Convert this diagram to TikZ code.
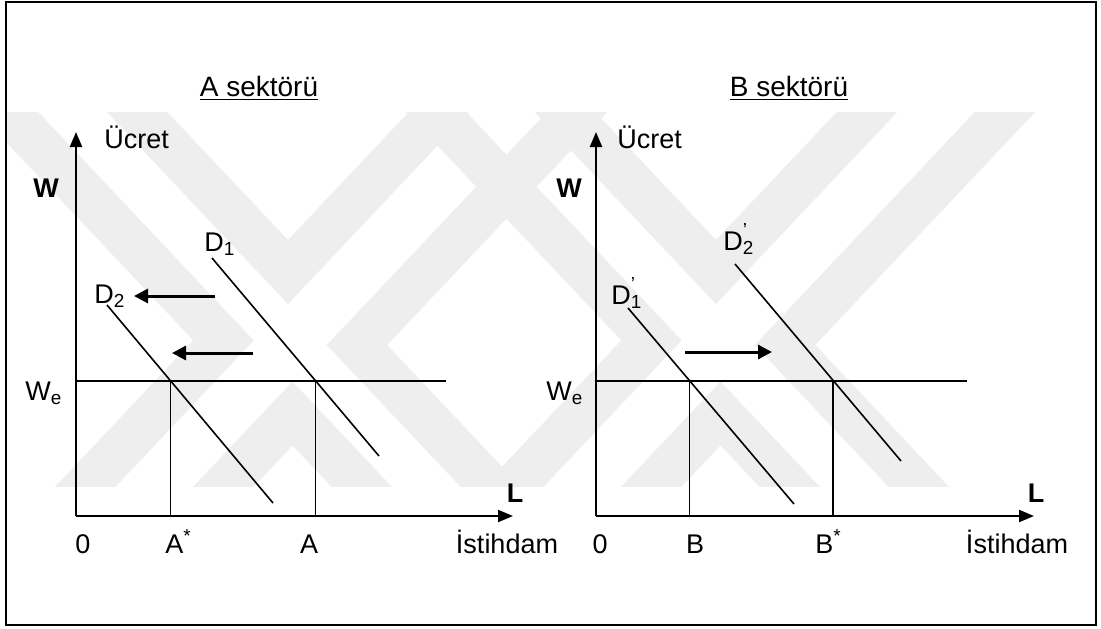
\documentclass[tikz,border=0pt]{standalone}
\usepackage{fontspec}
\setmainfont{Liberation Sans}
\usetikzlibrary{arrows.meta}
\definecolor{wm}{RGB}{238,238,238}
\newcommand{\Dps}[1]{D\rlap{\raisebox{0.1em}{\textsuperscript{'}}}\textsubscript{#1}}
\begin{document}
\begin{tikzpicture}[x=0.5pt,y=-0.5pt,
  axisarrow/.style={line width=1.1pt,-{Triangle[length=7.5pt,width=6pt]}},
  shiftarrow/.style={line width=1.5pt,-{Triangle[length=7pt,width=7pt]}},
  demand/.style={line width=0.8pt},
  wline/.style={line width=1pt},
  drop/.style={line width=0.8pt},
  wmark/.style={draw=wm,line width=22pt,line join=miter},
  lbl/.style={inner sep=0pt,font=\fontsize{13.5}{16}\selectfont},
  blbl/.style={inner sep=0pt,font=\fontsize{13.5}{16}\selectfont\bfseries},
  ttl/.style={inner sep=1pt,font=\fontsize{14}{17}\selectfont}]
\useasboundingbox (0,0) rectangle (1101,628);

% ---------- watermark (outlined X shapes) ----------
\begin{scope}
\clip (7,112) rectangle (1095,486);
\foreach \dx in {0,428}{
\draw[wmark,xshift=\dx*0.5pt] (-60,40) -- (223.5,340.4) -- (16.2,560) -- (154.2,560)
  -- (292.5,413.5) -- (430.8,560) -- (559.8,560) -- (357,345) -- (645,40)
  -- (507,40) -- (288,272) -- (69,40) -- cycle;
}
\end{scope}

\draw[line width=1.2pt] (6,2) rectangle (1096,625);

% ---------- A sektoru ----------
\coordinate (Ao) at (76,516);
\coordinate (Ay) at (76,132);
\coordinate (Ax) at (513,516);
\draw[axisarrow] (Ao) -- (Ay);
\draw[axisarrow] (Ao) -- (Ax);
\coordinate (AW1) at (76,380.5);
\coordinate (AW2) at (446,380.5);
\draw[wline] (AW1) -- (AW2);
\coordinate (D1a) at (212,258);
\coordinate (D1b) at (379,456);
\coordinate (D2a) at (107,305);
\coordinate (D2b) at (273,503);
\draw[demand] (D1a) -- (D1b);
\draw[demand] (D2a) -- (D2b);
\coordinate (XA) at (intersection of D1a--D1b and AW1--AW2);
\coordinate (XAs) at (intersection of D2a--D2b and AW1--AW2);
\coordinate (XAb) at (XA |- Ao);
\coordinate (XAsb) at (XAs |- Ao);
\draw[drop] (XA) -- (XAb);
\draw[drop] (XAs) -- (XAsb);
\coordinate (sh1a) at (215,296);
\coordinate (sh1b) at (134,296);
\coordinate (sh2a) at (253,353);
\coordinate (sh2b) at (172,353);
\draw[shiftarrow] (sh1a) -- (sh1b);
\draw[shiftarrow] (sh2a) -- (sh2b);

\node[ttl,anchor=base] (tA) at (259,96) {\underline{A sektörü}};
\node[lbl,anchor=base west] (uA) at (104,148) {Ücret};
\node[blbl] (wA) at (46,188) {W};
\node[lbl,anchor=base west] (d1) at (204,251) {D\textsubscript{1}};
\node[lbl,anchor=base west] (d2) at (94,303) {D\textsubscript{2}};
\node[lbl,anchor=base west] (weA) at (25,400) {W\textsubscript{e}};
\node[blbl] (lA) at (515,493) {L};
\node[lbl,anchor=base] (zA) at (83,553) {0};
\node[lbl,anchor=base west] (asA) at (165,553) {A\textsuperscript{*}};
\node[lbl,anchor=base] (aA) at (309,553) {A};
\node[lbl,anchor=base] (iA) at (507,553) {İstihdam};

% ---------- B sektoru ----------
\coordinate (Bo) at (596,516);
\coordinate (By) at (596,132);
\coordinate (Bx) at (1034,516);
\draw[axisarrow] (Bo) -- (By);
\draw[axisarrow] (Bo) -- (Bx);
\coordinate (BW1) at (596,380.5);
\coordinate (BW2) at (967,380.5);
\draw[wline] (BW1) -- (BW2);
\coordinate (E1a) at (628,308);
\coordinate (E1b) at (794,504);
\coordinate (E2a) at (735,264);
\coordinate (E2b) at (901,461);
\draw[demand] (E1a) -- (E1b);
\draw[demand] (E2a) -- (E2b);
\coordinate (XB) at (intersection of E1a--E1b and BW1--BW2);
\coordinate (XBs) at (intersection of E2a--E2b and BW1--BW2);
\coordinate (XBb) at (XB |- Bo);
\coordinate (XBsb) at (XBs |- Bo);
\draw[drop] (XB) -- (XBb);
\draw[drop] (XBs) -- (XBsb);
\coordinate (sh3a) at (685,352);
\coordinate (sh3b) at (772,352);
\draw[shiftarrow] (sh3a) -- (sh3b);

\node[ttl,anchor=base] (tB) at (789,96) {\underline{B sektörü}};
\node[lbl,anchor=base west] (uB) at (617,148) {Ücret};
\node[blbl] (wB) at (569,188) {W};
\node[lbl,anchor=base west] (e2) at (723,250) {\Dps{2}};
\node[lbl,anchor=base west] (e1) at (611,304) {\Dps{1}};
\node[lbl,anchor=base west] (weB) at (546,400) {W\textsubscript{e}};
\node[blbl] (lB) at (1036,493) {L};
\node[lbl,anchor=base] (zB) at (600,553) {0};
\node[lbl,anchor=base] (bB) at (695,553) {B};
\node[lbl,anchor=base west] (bsB) at (815,553) {B\textsuperscript{*}};
\node[lbl,anchor=base] (iB) at (1017,553) {İstihdam};
\end{tikzpicture}
\end{document}
